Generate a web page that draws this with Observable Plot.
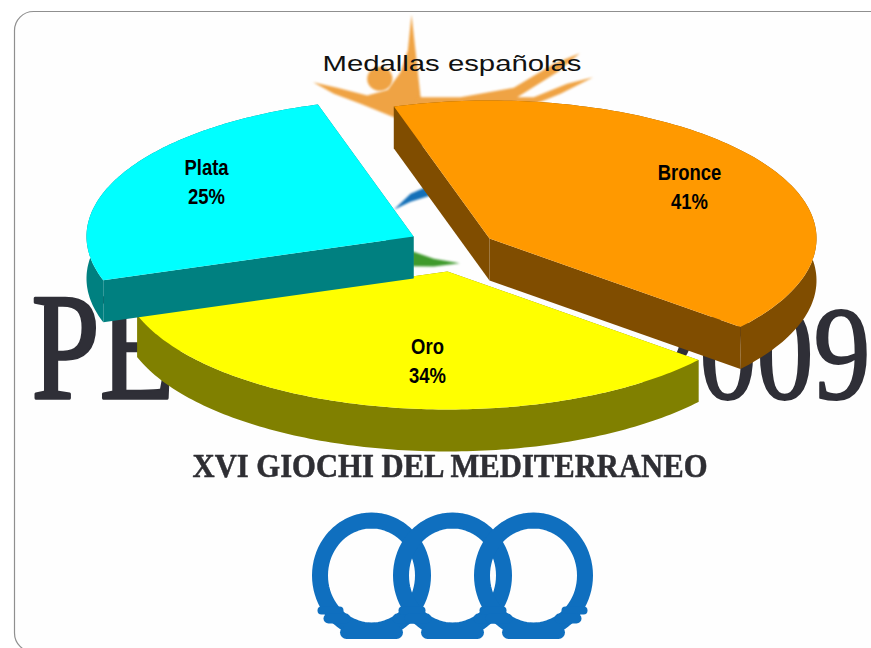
<!DOCTYPE html>
<html lang="es">
<head>
<meta charset="utf-8">
<script src="https://cdn.jsdelivr.net/npm/d3@7"></script>
<script src="https://cdn.jsdelivr.net/npm/@observablehq/plot@0.6"></script>
<style>
html,body{margin:0;padding:0;background:#fff;overflow:hidden}
svg{display:block}
</style>
</head>
<body>
<div id="chart"></div>
<script>
// ---- chart data ----
const categories = ["Bronce", "Oro", "Plata"];
const shares = [40.8, 33.8, 25.4];
const topColors = ["#ff9900", "#ffff00", "#00ffff"];
const wallColors = ["#804d00", "#808000", "#008080"];
const chartTitle = "Medallas españolas";

// ---- watermark text ----
const logoCity = "PE";
const logoYear = "2009";
const logoGames = "XVI GIOCHI DEL MEDITERRANEO";

// ---- 3D pie layout ----
const rx = 327, ry = 138, depth = 42, startDeg = -17;
const centres = {Bronce: [489, 238], Oro: [447, 271], Plata: [413, 236]};
const labelAt = {Bronce: [689, 179], Oro: [427, 353], Plata: [206, 174]};
const labelLeading = 29.5;
const drawOrder = ["Oro", "Bronce", "Plata"];

let acc = startDeg;
const slices = categories.map((name, i) => {
  const a0 = acc, a1 = acc + shares[i] * 3.6;
  acc = a1;
  return {name, pct: Math.round(shares[i]), a0, a1, top: topColors[i], wall: wallColors[i], c: centres[name]};
});
const pt = (s, deg, dz = 0) => {
  const t = deg * Math.PI / 180;
  return {x: s.c[0] + rx * Math.sin(t), y: s.c[1] - ry * Math.cos(t) + dz};
};
const arc = (s, dz = 0) => d3.range(0, 121).map(k => pt(s, s.a0 + (s.a1 - s.a0) * k / 120, dz));
const hub = (s, dz = 0) => ({x: s.c[0], y: s.c[1] + dz});
const face = (pts, fill) => Plot.line(pts, {x: "x", y: "y", fill, stroke: "none", curve: "linear"});

const sliceMarks = drawOrder.flatMap(name => {
  const s = slices.find(d => d.name === name);
  const top = arc(s), bot = arc(s, depth);
  return [
    face([...top, ...bot.slice().reverse()], s.wall),
    face([hub(s), top[0], bot[0], hub(s, depth)], s.wall),
    face([hub(s), top[120], bot[120], hub(s, depth)], s.wall),
    face([hub(s), ...top], s.top)
  ];
});

// ---- watermark artwork, in logo units ----
const z = pts => pts.map(([a, b]) => ({x: 300 + a / 3, y: b / 3}));
const sunOrange = "#efa344";
const sunShapes = [
  [[333,42],[345,150],[362,305],[300,352],[280,350],[180,310],[100,280],[38,245],[110,262],[200,285],[262,268],[300,215],[322,150]],
  [[350,290],[480,290],[640,262],[760,190],[838,158],[770,215],[650,290],[700,290],[800,250],[878,230],[780,280],[680,320],[420,330],[340,330]]
];
const sunHead = d3.range(0, 41).map(k => [238 + 38 * Math.cos(k * Math.PI / 20), 235 + 36 * Math.sin(k * Math.PI / 20)]);
const blueSwoosh = [[280,628],[330,580],[375,560],[390,585],[330,604]];
const greenSwoosh = [[335,752],[400,775],[478,788],[400,798],[335,797]];

const ringCentres = [371, 452, 533];
const ringBlue = "#0f6fbf";
const ringMarks = ringCentres.flatMap(cx => {
  const ellipse = d3.range(0, 81).map(k => ({x: cx + 51.5 * Math.cos(k * Math.PI / 40), y: 575 + 55 * Math.sin(k * Math.PI / 40)}));
  const dashes = [[-25, 25, 632, 13], [-50, -32, 610, 8], [-43, -26, 618, 10], [32, 50, 610, 8], [26, 43, 618, 10]];
  return [
    Plot.line(ellipse, {x: "x", y: "y", stroke: ringBlue, strokeWidth: 16, imageFilter: "blur(0.4px)"}),
    ...dashes.map(([a, b, y, w]) => Plot.line([{x: cx + a, y}, {x: cx + b, y}], {x: "x", y: "y", stroke: ringBlue, strokeWidth: w, strokeLinecap: "round"}))
  ];
});

const plot = Plot.plot({
  width: 871, height: 648,
  marginTop: 0, marginRight: 0, marginBottom: 0, marginLeft: 0,
  x: {domain: [0, 871], range: [0, 871], axis: null},
  y: {domain: [0, 648], range: [0, 648], axis: null},
  style: {background: "#fff"},
  marks: [
    Plot.rect([0], {x1: 14.5, x2: 900, y1: 11.5, y2: 652, rx: 19, fill: "#fefefe", stroke: "#8f8f8f", strokeWidth: 1.2}),
    ...sunShapes.map(p => Plot.line(z(p), {x: "x", y: "y", fill: sunOrange, stroke: "none", imageFilter: "blur(1.2px)"})),
    Plot.line(z(sunHead), {x: "x", y: "y", fill: sunOrange, stroke: "none", imageFilter: "blur(1px)"}),
    Plot.line(z(blueSwoosh), {x: "x", y: "y", fill: "#1470b8", stroke: "none", imageFilter: "blur(1px)"}),
    Plot.line(z(greenSwoosh), {x: "x", y: "y", fill: "#3f9a2c", stroke: "none", imageFilter: "blur(1px)"}),
    Plot.text([logoCity], {x: 31, y: 397, text: d => d, className: "scale-city", textAnchor: "start", lineAnchor: "bottom", fontFamily: "Liberation Serif", fontSize: 122.5, fill: "#2f2f37", stroke: "#2f2f37", strokeWidth: 2.6, imageFilter: "blur(0.7px)"}),
    Plot.text([logoYear], {x: 642, y: 398, text: d => d, className: "scale-year", textAnchor: "start", lineAnchor: "bottom", fontFamily: "Liberation Serif", fontSize: 114, fill: "#2f2f37", stroke: "#2f2f37", strokeWidth: 1.8, imageFilter: "blur(0.7px)"}),
    Plot.text([logoGames], {x: 192, y: 476, text: d => d, className: "stretch-games", textAnchor: "start", lineAnchor: "bottom", fontFamily: "Liberation Serif", fontWeight: 700, fontSize: 33, fill: "#2e2e33", stroke: "#2e2e33", strokeWidth: 0.5, imageFilter: "blur(0.6px)"}),
    ...ringMarks,
    Plot.text([chartTitle], {x: 322, y: 70, text: d => d, className: "stretch-title", textAnchor: "start", lineAnchor: "bottom", fontFamily: "Liberation Sans", fontSize: 22, fill: "#111"}),
    ...sliceMarks,
    Plot.text(slices, {
      x: d => labelAt[d.name][0], y: d => labelAt[d.name][1],
      text: d => d.name, className: "scale-label", lineAnchor: "bottom",
      fontFamily: "Liberation Sans", fontWeight: 700, fontSize: 22, fill: "#000"
    }),
    Plot.text(slices, {
      x: d => labelAt[d.name][0], y: d => labelAt[d.name][1] + labelLeading,
      text: d => `${d.pct}%`, className: "scale-label", lineAnchor: "bottom",
      fontFamily: "Liberation Sans", fontWeight: 700, fontSize: 22, fill: "#000"
    })
  ]
});
const stretch = (cls, len) => plot.querySelectorAll(`.${cls} text`).forEach(t => {
  t.setAttribute("textLength", len);
  t.setAttribute("lengthAdjust", "spacingAndGlyphs");
});
const rescale = (cls, sx, sy) => plot.querySelectorAll(`.${cls} text`).forEach(t => {
  t.setAttribute("transform", `${t.getAttribute("transform") || ""} scale(${sx},${sy})`);
});
stretch("stretch-games", 515);
stretch("stretch-title", 259);
rescale("scale-city", 1, 1.25);
rescale("scale-year", 1, 1.17);
rescale("scale-label", 0.84, 1);
document.getElementById("chart").append(plot);
</script>
</body>
</html>
